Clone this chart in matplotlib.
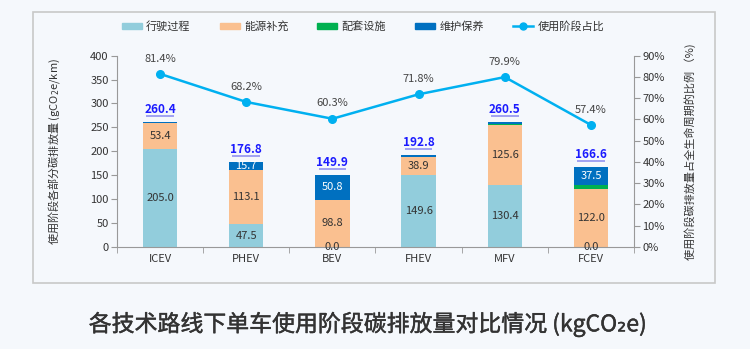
import numpy as np
import matplotlib
matplotlib.use("Agg")
from matplotlib import pyplot as plt
from matplotlib.patches import Rectangle
from matplotlib.lines import Line2D
import matplotlib.transforms as mtransforms
import matplotlib.patheffects as pe

plt.rcParams['font.family'] = ['Noto Sans CJK SC', 'DejaVu Sans']

categories = ['ICEV', 'PHEV', 'BEV', 'FHEV', 'MFV', 'FCEV']
driving = [205.0, 47.5, 0.0, 149.6, 130.4, 0.0]
energy = [53.4, 113.1, 98.8, 38.9, 125.6, 122.0]
infra = [0.2, 0.5, 0.3, 0.3, 1.0, 7.1]
maint = [1.8, 15.7, 50.8, 4.0, 3.5, 37.5]
totals = [260.4, 176.8, 149.9, 192.8, 260.5, 166.6]
use_share = [81.4, 68.2, 60.3, 71.8, 79.9, 57.4]

series_names = ['行驶过程', '能源补充', '配套设施', '维护保养']
series_colors = ['#92CDDC', '#FAC090', '#00B050', '#0070C0']
line_color = '#00B0F0'
bg = '#F5F8FC'
txt = '#333333'
axis_grey = '#999999'

fig = plt.figure(figsize=(7.5, 3.49), dpi=100)
fig.patch.set_facecolor(bg)

# frame around the plotting area
fig.patches.append(Rectangle((33 / 750, 1 - 283 / 349), (715 - 33) / 750, (283 - 12) / 349,
                             transform=fig.transFigure, fill=False,
                             edgecolor='#C8C8C8', linewidth=1.2))

ax = fig.add_axes([117 / 750, 1 - 247 / 349, (634 - 117) / 750, (247 - 55.6) / 349])
ax.set_facecolor('none')
x = np.arange(len(categories))
w = 0.4

stack = [driving, energy, infra, maint]
bottom = np.zeros(len(categories))
for vals, name, col in zip(stack, series_names, series_colors):
    ax.bar(x, vals, w, bottom=bottom, color=col, label=name, zorder=2)
    bottom = bottom + np.array(vals)

# segment labels
for i in range(len(categories)):
    ax.text(x[i], driving[i] / 2, f'{driving[i]:.1f}', ha='center', va='center',
            fontsize=8, color=txt, zorder=3)
    ax.text(x[i], driving[i] + energy[i] / 2, f'{energy[i]:.1f}', ha='center', va='center',
            fontsize=8, color=txt, zorder=3)
    if maint[i] > 10:
        y_m = driving[i] + energy[i] + infra[i] + maint[i] / 2
        ax.text(x[i], y_m, f'{maint[i]:.1f}', ha='center', va='center',
                fontsize=8, color='white', zorder=3)

# totals above the bars, underlined
for i in range(len(categories)):
    top = driving[i] + energy[i] + infra[i] + maint[i]
    ax.annotate(f'{totals[i]:.1f}', (x[i], top), xytext=(0, 9), textcoords='offset points',
                ha='center', va='center', fontsize=8.5, fontweight='bold', color='#1A1AFF')
    tr = mtransforms.offset_copy(ax.transData, fig=fig, x=0, y=4.3, units='points')
    ax.plot([x[i] - 0.16, x[i] + 0.16], [top, top], color='#9A9AF0', lw=1.3,
            transform=tr, solid_capstyle='butt', clip_on=False, zorder=3)

ax.set_xlim(-0.5, 5.5)
ax.set_ylim(0, 400)
ax.set_yticks(np.arange(0, 401, 50))
ax.set_xticks(x)
ax.set_xticklabels(categories)
ax.set_xticks(np.arange(-0.5, 6, 1), minor=True)
ax.tick_params(axis='x', which='major', length=0, pad=5, labelsize=8, labelcolor=txt)
ax.tick_params(axis='x', which='minor', length=4, color=axis_grey, direction='out')
ax.tick_params(axis='y', length=4, color=axis_grey, labelsize=8, labelcolor=txt, pad=2)
for s in ['top', 'right']:
    ax.spines[s].set_visible(False)
for s in ['left', 'bottom']:
    ax.spines[s].set_color(axis_grey)
ax.set_ylabel('使用阶段各部分碳排放量 (gCO$_2$e/km)', fontsize=8, color=txt, labelpad=20)

ax2 = ax.twinx()
ax2.set_ylim(0, 90)
ax2.set_yticks(np.arange(0, 91, 10))
ax2.set_yticklabels([f'{v}%' for v in range(0, 91, 10)])
ax2.tick_params(axis='y', length=4, color=axis_grey, labelsize=8, labelcolor=txt, pad=2)
for s in ['top', 'left', 'bottom']:
    ax2.spines[s].set_visible(False)
ax2.spines['right'].set_color(axis_grey)
ax2.plot(x, use_share, color=line_color, lw=1.8, marker='o', markersize=5.5,
         label='使用阶段占比', zorder=4)
for i, v in enumerate(use_share):
    ax2.annotate(f'{v:.1f}%', (x[i], v), xytext=(0, 11), textcoords='offset points',
                 ha='center', va='center', fontsize=8, color='#444444')
ax2.set_ylabel('使用阶段碳排放量占全生命周期的比例 （%)', fontsize=8, color=txt, labelpad=14)

handles = [Rectangle((0, 0), 1, 1, color=c) for c in series_colors]
handles.append(Line2D([0], [0], color=line_color, lw=1.8, marker='o', markersize=5))
leg = fig.legend(handles, series_names + ['使用阶段占比'], loc='center',
                 bbox_to_anchor=(363 / 750, 1 - 26.5 / 349), ncol=5, frameon=False, fontsize=8,
                 handlelength=1.8, handleheight=0.55, columnspacing=2.6, handletextpad=0.4)
for t in leg.get_texts():
    t.set_color(txt)

title = fig.text(0.490, 1 - 324 / 349, '各技术路线下单车使用阶段碳排放量对比情况 (kgCO₂e)',
                 ha='center', va='center', fontsize=16.5, color='#333333')
title.set_path_effects([pe.withStroke(linewidth=0.3, foreground='#333333')])

fig.savefig('out.png', dpi=100, facecolor=bg)
